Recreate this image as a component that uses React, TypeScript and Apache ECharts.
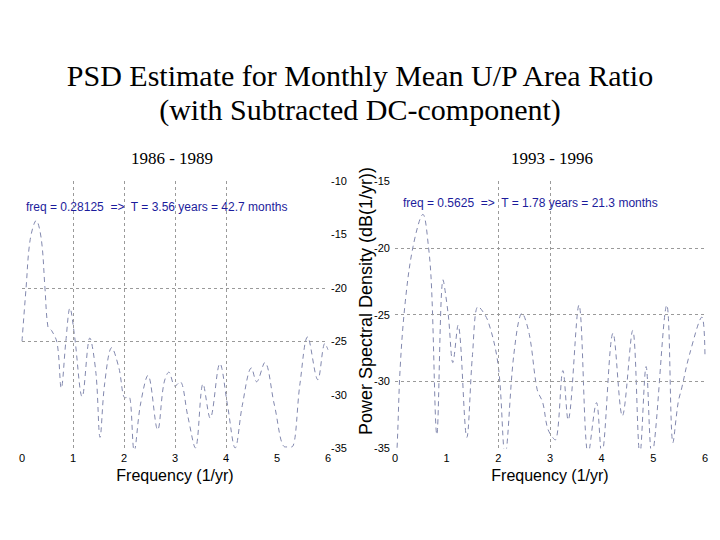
import React, { useEffect, useRef } from "react";
import * as echarts from "echarts";

const titleLines = ["PSD Estimate for Monthly Mean U/P Area Ratio", "(with Subtracted DC-component)"];
const panelTitles = ["1986 - 1989", "1993 - 1996"];
const annotations = [
  "freq = 0.28125  =>  T = 3.56 years = 42.7 months",
  "freq = 0.5625  =>  T = 1.78 years = 21.3 months",
];
const xName = "Frequency (1/yr)";
const yName = "Power Spectral Density (dB(1/yr))";

const leftFreq = [0.0, 0.08, 0.16, 0.28, 0.38, 0.45, 0.51, 0.58, 0.69, 0.77, 0.86, 0.94, 1.03, 1.18, 1.33, 1.45, 1.53, 1.62, 1.76, 1.9, 2.02, 2.1, 2.2, 2.32, 2.47, 2.66, 2.78, 2.88, 3.0, 3.1, 3.25, 3.4, 3.55, 3.69, 3.88, 4.03, 4.18, 4.32, 4.5, 4.6, 4.76, 4.95, 5.16, 5.29, 5.45, 5.6, 5.8, 5.94, 6.0];
const leftPsd = [-25, -20, -15.5, -13.7, -15.5, -20, -23.7, -24, -25.2, -29.4, -25, -21.9, -24.5, -30.2, -24.7, -28, -34, -29, -25.6, -27.5, -30.3, -30.2, -35.3, -31, -28.2, -33.3, -29, -27.9, -29.2, -28.8, -32, -35, -29, -32.2, -27.1, -31, -35, -31, -27.5, -28.8, -27, -31, -34.9, -34.9, -29, -24.6, -28.6, -25.2, -25.8];

const rightFreq = [0.0, 0.04, 0.1, 0.2, 0.35, 0.54, 0.65, 0.71, 0.81, 0.93, 1.03, 1.12, 1.22, 1.39, 1.5, 1.61, 1.8, 2.0, 2.13, 2.3, 2.46, 2.6, 2.75, 2.86, 2.96, 3.1, 3.25, 3.35, 3.56, 3.74, 3.9, 4.0, 4.22, 4.4, 4.6, 4.74, 4.86, 4.97, 5.26, 5.38, 5.48, 5.55, 5.7, 5.94, 6.0];
const rightPsd = [-37, -35, -29, -24, -19.9, -17.5, -20, -23.2, -34, -22.4, -25, -28.6, -25.8, -34.2, -28, -24.4, -25.5, -28.9, -35.5, -28, -24.9, -26.5, -30.6, -31.6, -33.6, -34.4, -29.2, -32.9, -24.3, -35.5, -31.6, -35.5, -26.4, -32.6, -26.2, -35.5, -28.9, -35.5, -24.3, -34.6, -31.6, -30.5, -28, -25.2, -28.2];

const leftYRange = [-35, -10];
const rightYRange = [-35, -15];
const leftGridX = [1, 2, 3, 4];
const leftGridY = [-20, -25];
const rightGridX = [2, 3];
const rightGridY = [-20, -25, -30];

const SANS = "Liberation Sans, Arial, sans-serif";
const SERIF = "Liberation Serif, Times New Roman, serif";
const LINE_COLOR = "#8288ae";

function zip(a: number[], b: number[]) {
  return a.map((v, i) => [v, b[i]]);
}

function gridMarks(xs: number[], ys: number[]) {
  return {
    silent: true,
    symbol: "none",
    label: { show: false },
    lineStyle: { color: "#9a9a9a", type: [3, 3], width: 1 },
    data: [...xs.map((x) => ({ xAxis: x })), ...ys.map((y) => ({ yAxis: y }))],
  };
}

export default function App() {
  const ref = useRef<HTMLDivElement>(null);
  useEffect(() => {
    if (!ref.current) return;
    const chart = echarts.init(ref.current, null, { renderer: "svg" });
    const xAxisBase = (gridIndex: number) => ({
      type: "value",
      gridIndex,
      min: 0,
      max: 6,
      interval: 1,
      name: xName,
      nameLocation: "middle",
      nameGap: 19,
      nameTextStyle: { fontFamily: SANS, fontSize: 16, color: "#000" },
      axisLine: { show: false },
      axisTick: { show: false },
      splitLine: { show: false },
      axisLabel: { fontFamily: SANS, fontSize: 11, color: "#000", margin: 4 },
    });
    chart.setOption({
      animation: false,
      backgroundColor: "#fff",
      title: {
        text: titleLines.join("\n"),
        left: "center",
        top: 53,
        textStyle: { fontFamily: SERIF, fontSize: 30, fontWeight: "normal", color: "#000", lineHeight: 34 },
      },
      grid: [
        { left: 22, top: 181, width: 306, height: 267 },
        { left: 395, top: 181, width: 310, height: 267 },
      ],
      xAxis: [xAxisBase(0), xAxisBase(1)],
      yAxis: [
        {
          type: "value",
          gridIndex: 0,
          position: "right",
          min: leftYRange[0],
          max: leftYRange[1],
          interval: 5,
          axisLine: { show: false },
          axisTick: { show: false },
          splitLine: { show: false },
          axisLabel: { fontFamily: SANS, fontSize: 11, color: "#000", margin: 3 },
        },
        {
          type: "value",
          gridIndex: 1,
          position: "left",
          min: rightYRange[0],
          max: rightYRange[1],
          interval: 5,
          axisLine: { show: false },
          axisTick: { show: false },
          splitLine: { show: false },
          axisLabel: { fontFamily: SANS, fontSize: 11, color: "#000", margin: 5 },
        },
      ],
      graphic: [
        { type: "text", x: 172, y: 158, style: { text: panelTitles[0], font: `17px ${SERIF}`, fill: "#000", textAlign: "center", textVerticalAlign: "middle" } },
        { type: "text", x: 552, y: 158, style: { text: panelTitles[1], font: `17px ${SERIF}`, fill: "#000", textAlign: "center", textVerticalAlign: "middle" } },
        { type: "text", x: 26, y: 207, style: { text: annotations[0], font: `12px ${SANS}`, fill: "#1c1c9c", textAlign: "left", textVerticalAlign: "middle" } },
        { type: "text", x: 403, y: 203, style: { text: annotations[1], font: `12px ${SANS}`, fill: "#1c1c9c", textAlign: "left", textVerticalAlign: "middle" } },
        { type: "text", x: 366, y: 301, rotation: Math.PI / 2, style: { text: yName, font: `18px ${SANS}`, fill: "#000", textAlign: "center", textVerticalAlign: "middle" } },
      ],
      series: [
        {
          type: "line",
          xAxisIndex: 0,
          yAxisIndex: 0,
          data: zip(leftFreq, leftPsd),
          smooth: 0.35,
          showSymbol: false,
          clip: true,
          lineStyle: { color: LINE_COLOR, width: 1, type: [5, 4] },
          markLine: gridMarks(leftGridX, leftGridY),
          z: 3,
        },
        {
          type: "line",
          xAxisIndex: 1,
          yAxisIndex: 1,
          data: zip(rightFreq, rightPsd),
          smooth: 0.35,
          showSymbol: false,
          clip: true,
          lineStyle: { color: LINE_COLOR, width: 1, type: [5, 4] },
          markLine: gridMarks(rightGridX, rightGridY),
          z: 3,
        },
      ],
    });
    return () => chart.dispose();
  }, []);
  return <div ref={ref} style={{ width: 720, height: 540, margin: -8 }} />;
}
